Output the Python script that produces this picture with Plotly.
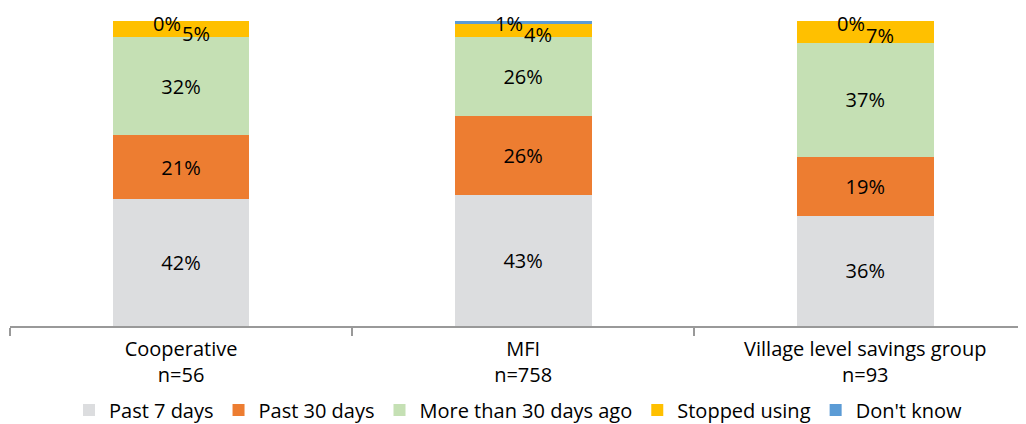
import plotly.graph_objects as go

categories = ["Cooperative<br>n=56", "MFI<br>n=758", "Village level savings group<br>n=93"]
series_names = ["Past 7 days", "Past 30 days", "More than 30 days ago", "Stopped using", "Don't know"]
past_7_days = [41.6, 43.0, 36.2]
past_30_days = [21.0, 25.8, 19.2]
more_than_30 = [32.1, 25.9, 37.4]
stopped_using = [5.3, 4.3, 7.2]
dont_know = [0.0, 1.0, 0.0]
colors = ["#DCDDDF", "#ED7D31", "#C5E0B4", "#FFC000", "#5B9BD5"]

series = [past_7_days, past_30_days, more_than_30, stopped_using, dont_know]
FONT = "'Open Sans', Lato, sans-serif"

fig = go.Figure()
for name, vals, col, idx in zip(series_names, series, colors, range(5)):
    big = idx < 3
    fig.add_trace(go.Bar(
        x=categories, y=vals, name=name, marker=dict(color=col, line=dict(width=0)),
        text=[f"{v:.0f}%" for v in vals] if big else None,
        textposition="inside" if big else "none",
        insidetextanchor="middle",
        textfont=dict(size=20, color="#000000", family=FONT),
        hoverinfo="skip",
    ))

# small top-segment labels (Stopped using / Don't know) placed near segment tops
for i, cat in enumerate(categories):
    base = past_7_days[i] + past_30_days[i] + more_than_30[i]
    fig.add_annotation(x=cat, y=base + stopped_using[i] / 2, text=f"{stopped_using[i]:.0f}%",
                       showarrow=False, xshift=15, yshift=-4,
                       font=dict(size=20, color="#000000", family=FONT))
    top = min(base + stopped_using[i] + dont_know[i], 99.9)
    fig.add_annotation(x=cat, y=top, text=f"{dont_know[i]:.0f}%",
                       showarrow=False, xshift=-14, yshift=-2,
                       font=dict(size=20, color="#000000", family=FONT))

# page body has an 8px default margin, so the figure is offset to compensate
fig.update_layout(
    barmode="stack",
    bargap=0.6,
    width=1018, height=416,
    margin=dict(l=2, r=0, t=13, b=98, autoexpand=False),
    plot_bgcolor="white", paper_bgcolor="white",
    uniformtext=dict(minsize=20, mode="show"),
    legend=dict(orientation="h", x=0.5, xanchor="center", y=-0.275, yanchor="middle",
                font=dict(size=20, family=FONT, color="#000000"), itemwidth=30,
                traceorder="normal"),
    xaxis=dict(range=[-0.5, 2.47], showline=True, linecolor="#999999", linewidth=2,
               ticks="outside", tickson="boundaries", ticklen=8, tickcolor="#999999",
               tickwidth=2, tickfont=dict(size=20, family=FONT, color="#000000"),
               ticklabelstandoff=4,
               showgrid=False, automargin=False),
    yaxis=dict(range=[0, 100], visible=False, showgrid=False, automargin=False),
)

fig.write_html("out.html")
